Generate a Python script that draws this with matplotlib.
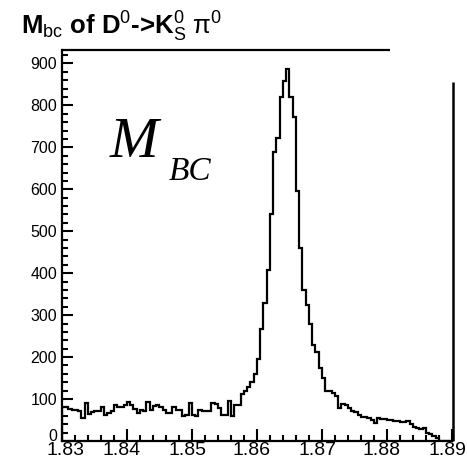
import numpy as np
import matplotlib
matplotlib.use("Agg")
import matplotlib.pyplot as plt
from matplotlib.transforms import ScaledTranslation

# ---- data -------------------------------------------------------------
x_min, x_max, n_bins = 1.83, 1.89, 120
counts = [
    82, 80, 77, 75, 75, 72, 56, 90, 64, 69,
    72, 72, 80, 63, 67, 71, 85, 80, 80, 87,
    94, 86, 77, 67, 75, 71, 92, 75, 84, 85,
    82, 75, 67, 67, 82, 75, 75, 59, 63, 90,
    63, 59, 75, 71, 71, 71, 90, 88, 78, 63,
    62, 96, 59, 87, 87, 112, 120, 128, 140, 160,
    195, 268, 330, 408, 540, 688, 722, 820, 858, 886,
    820, 773, 595, 460, 360, 323, 280, 229, 213, 173,
    150, 120, 118, 114, 108, 79, 88, 87, 79, 71,
    68, 62, 57, 57, 55, 51, 43, 55, 53, 53,
    51, 51, 47, 47, 45, 45, 47, 40, 33, 32,
    28, 32, 20, 16, 12, 8, 0, 0, 0, 0,
]
x_ticks = [1.83, 1.84, 1.85, 1.86, 1.87, 1.88, 1.89]
x_tick_labels = ["1.83", "1.84", "1.85", "1.86", "1.87", "1.88", "1.89"]
y_ticks = [0, 100, 200, 300, 400, 500, 600, 700, 800, 900]
y_tick_labels = [str(v) for v in y_ticks]
title_text = r"M$_{\mathrm{bc}}$ of D$^{\mathrm{0}}$->K$^{\mathrm{0}}_{\mathrm{S}}$ $\mathrm{\pi}^{\mathrm{0}}$"

# ---- style -----------------------------------------------------------
plt.rcParams["font.family"] = ["Liberation Sans", "DejaVu Sans"]
plt.rcParams["mathtext.fontset"] = "custom"
plt.rcParams["mathtext.rm"] = "Liberation Sans"
plt.rcParams["mathtext.it"] = "Liberation Sans:italic"
plt.rcParams["mathtext.bf"] = "Liberation Sans:bold"

W, H = 467, 459
fig = plt.figure(figsize=(W / 100, H / 100), dpi=100)

left_px, right_px, bottom_px, top_px = 62, 452, 441, 50
ax = fig.add_axes([left_px / W, 1 - bottom_px / H,
                   (right_px - left_px) / W, (bottom_px - top_px) / H])

edges = np.linspace(x_min, x_max, n_bins + 1)
ax.stairs(counts, edges, color="black", linewidth=1.6, baseline=0)

ax.set_xlim(x_min, x_max)
ax.set_ylim(0, 932)

ax.set_xticks(x_ticks)
ax.set_xticklabels(x_tick_labels)
ax.set_xticks(np.arange(0, 31) * 0.002 + x_min, minor=True)
ax.set_yticks(y_ticks)
ax.set_yticklabels(y_tick_labels)
ax.set_yticks(np.arange(0, 47) * 20, minor=True)

ax.tick_params(which="both", direction="in", width=1.5, color="black")
ax.tick_params(axis="x", which="major", length=8.5, labelsize=14, pad=0.5)
ax.tick_params(axis="x", which="minor", length=4.5)
ax.tick_params(axis="y", which="major", length=8, labelsize=11.5, pad=3.5)
ax.tick_params(axis="y", which="minor", length=4.5)
ax.tick_params(top=False, right=False, which="both")

# shift x tick labels slightly left like the reference (except first)
for i, lab in enumerate(ax.get_xticklabels()):
    dx = 4 if i == 0 else -5
    lab.set_transform(lab.get_transform() +
                      ScaledTranslation(dx / 100, 0, fig.dpi_scale_trans))
# the "0" y label sits a little above the axis in the reference
ylabs = ax.get_yticklabels()
ylabs[0].set_transform(ylabs[0].get_transform() +
                       ScaledTranslation(0, 6 / 100, fig.dpi_scale_trans))

for s in ["left", "bottom"]:
    ax.spines[s].set_linewidth(1.6)
ax.spines["top"].set_visible(False)
ax.spines["right"].set_visible(False)

# partial frame pieces as in the scanned reference
ax.plot([0, (390 - left_px) / (right_px - left_px)], [1, 1], transform=ax.transAxes,
        color="black", linewidth=1.6, clip_on=False, solid_capstyle="butt")
ax.plot([1.003, 1.003], [0, (bottom_px - 82) / (bottom_px - top_px)], transform=ax.transAxes,
        color="black", linewidth=1.8, clip_on=False, solid_capstyle="butt")

# title
fig.text(21 / W, 1 - 35 / H, title_text, fontsize=18.5, fontweight="bold",
         ha="left", va="baseline")

# big M_BC label
fig.text(110 / W, 1 - 157 / H, "M", fontsize=42, family="Liberation Serif",
         style="italic", ha="left", va="baseline")
fig.text(169 / W, 1 - 180 / H, "BC", fontsize=24, family="Liberation Serif",
         style="italic", ha="left", va="baseline")

fig.savefig("out.png", dpi=100)
